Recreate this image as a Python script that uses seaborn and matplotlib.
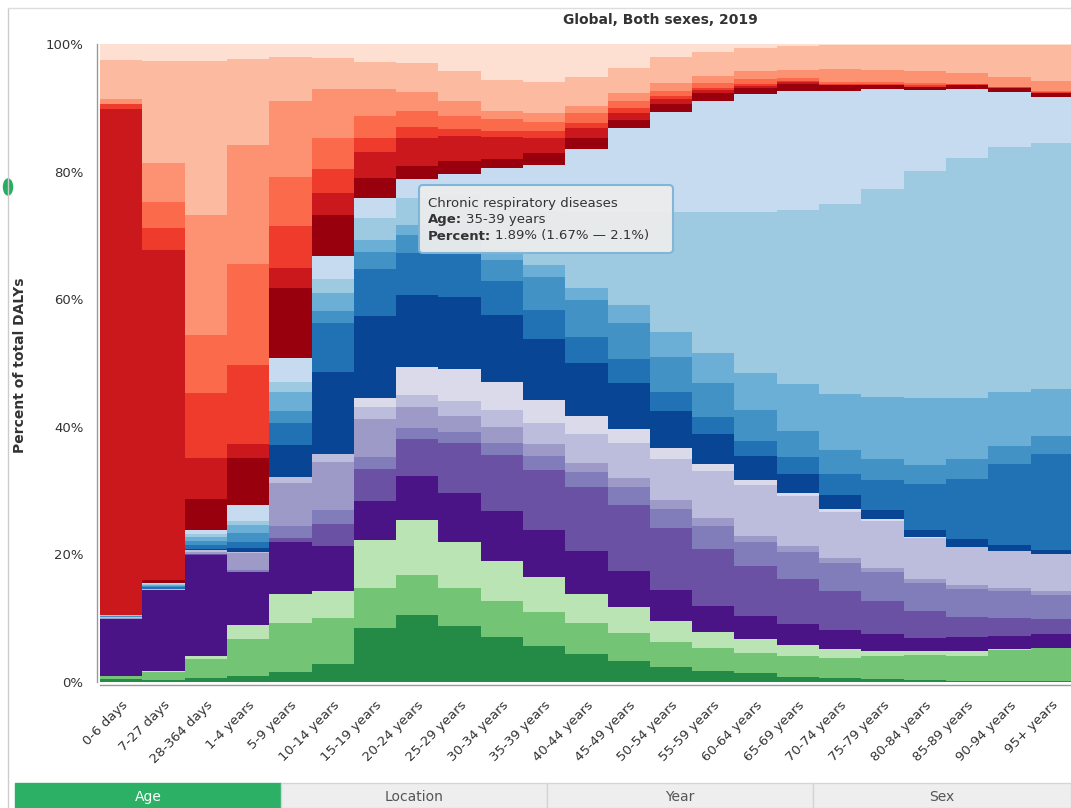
import numpy as np
import pandas as pd
import seaborn as sns
import matplotlib.pyplot as plt
from matplotlib.patches import FancyBboxPatch, Rectangle, Ellipse
from matplotlib.lines import Line2D
from matplotlib.transforms import IdentityTransform
from matplotlib.ticker import FuncFormatter, FixedLocator

sns.set_style("white")
plt.rcParams["font.family"] = ["DejaVu Sans"]

W, H = 1071, 808

ages = ["0-6 days", "7-27 days", "28-364 days", "1-4 years", "5-9 years",
        "10-14 years", "15-19 years", "20-24 years", "25-29 years", "30-34 years",
        "35-39 years", "40-44 years", "45-49 years", "50-54 years", "55-59 years",
        "60-64 years", "65-69 years", "70-74 years", "75-79 years", "80-84 years",
        "85-89 years", "90-94 years", "95+ years"]

# percent of total DALYs per age group, GBD level-2 causes
# injuries
self_harm = [0.4, 0.3, 0.6, 0.9, 1.5, 2.8, 8.5, 10.5, 8.8, 7.1, 5.6, 4.4, 3.3, 2.4, 1.7, 1.4, 0.8, 0.7, 0.5, 0.3, 0.2, 0.1, 0.1]
unintentional = [0.5, 1.3, 3.0, 5.9, 7.8, 7.3, 6.3, 6.3, 5.9, 5.6, 5.4, 4.8, 4.4, 3.9, 3.6, 3.2, 3.2, 3.0, 3.5, 3.9, 3.9, 4.9, 5.2]
transport = [0.0, 0.1, 0.5, 2.1, 4.5, 4.1, 7.5, 8.6, 7.2, 6.3, 5.5, 4.6, 4.0, 3.3, 2.6, 2.1, 1.8, 1.4, 0.8, 0.6, 0.8, 0.2, 0.1]
# non-communicable
other_ncd = [9.0, 12.7, 15.8, 8.3, 8.1, 7.1, 6.0, 6.9, 7.8, 7.8, 7.3, 6.7, 5.7, 4.8, 4.0, 3.6, 3.3, 3.1, 2.8, 2.1, 2.1, 2.0, 2.1]
musculoskeletal = [0.05, 0.0, 0.1, 0.1, 0.6, 3.4, 5.1, 5.8, 7.7, 8.8, 9.4, 10.1, 10.3, 9.7, 9.0, 7.9, 7.0, 6.0, 5.1, 4.2, 3.2, 2.8, 2.3]
sense_organ = [0.0, 0.0, 0.1, 0.2, 2.0, 2.3, 1.9, 1.7, 1.8, 1.8, 2.2, 2.3, 2.8, 3.0, 3.6, 3.7, 4.3, 4.4, 4.6, 4.4, 4.3, 4.3, 3.8]
skin = [0.1, 0.0, 0.2, 2.7, 6.7, 7.5, 6.0, 3.3, 2.5, 2.5, 1.9, 1.5, 1.5, 1.4, 1.2, 1.0, 0.9, 0.8, 0.6, 0.6, 0.7, 0.5, 0.7]
diabetes_kidney = [0.1, 0.1, 0.3, 0.2, 1.0, 1.2, 1.8, 1.9, 2.3, 2.7, 3.3, 4.4, 5.4, 6.5, 7.3, 8.0, 7.9, 7.3, 7.4, 6.5, 5.9, 5.7, 5.8]
substance_use = [0.0, 0.0, 0.0, 0.0, 0.0, 0.1, 1.4, 4.3, 5.0, 4.5, 3.6, 2.9, 2.3, 1.6, 1.1, 0.8, 0.5, 0.4, 0.2, 0.2, 0.1, 0.1, 0.0]
mental = [0.0, 0.0, 0.2, 0.6, 4.9, 12.8, 12.9, 11.4, 11.4, 10.4, 9.5, 8.3, 7.1, 5.9, 4.7, 3.7, 2.9, 2.2, 1.5, 1.1, 1.2, 0.9, 0.6]
neurological = [0.1, 0.3, 0.6, 1.0, 3.5, 7.7, 7.4, 6.5, 6.7, 5.4, 4.6, 4.1, 3.8, 3.0, 2.8, 2.4, 2.7, 3.3, 4.6, 7.1, 9.4, 12.7, 15.1]
digestive = [0.1, 0.2, 0.7, 1.3, 1.9, 1.9, 2.6, 2.9, 3.0, 3.2, 5.2, 5.7, 5.6, 5.5, 5.2, 4.8, 4.0, 3.7, 3.3, 3.0, 3.1, 2.8, 2.8]
chronic_resp = [0.05, 0.2, 0.6, 1.4, 3.0, 2.8, 1.9, 1.5, 1.7, 1.8, 1.89, 1.9, 2.9, 3.8, 4.7, 5.9, 7.4, 8.8, 9.8, 10.5, 9.6, 8.4, 7.3]
cardiovascular = [0.1, 0.15, 0.4, 0.6, 1.6, 2.2, 3.4, 4.2, 4.6, 6.8, 8.5, 12.0, 14.6, 18.9, 22.1, 25.1, 27.3, 29.8, 32.5, 35.6, 37.6, 38.5, 38.6]
neoplasms = [0.05, 0.15, 0.7, 2.4, 3.7, 3.6, 3.1, 3.1, 3.3, 5.8, 7.1, 9.9, 13.1, 15.7, 17.5, 18.5, 18.7, 17.8, 15.8, 12.7, 10.8, 8.6, 7.2]
# communicable, maternal, neonatal and nutritional
nutritional = [0.0, 0.4, 4.8, 7.5, 11.0, 6.4, 3.2, 2.0, 1.9, 1.4, 1.9, 1.7, 1.3, 1.2, 1.2, 1.0, 1.1, 0.8, 0.5, 0.4, 0.6, 0.6, 0.6]
maternal_neonatal = [79.4, 51.7, 6.5, 2.1, 3.1, 3.4, 4.1, 4.3, 4.0, 3.5, 2.3, 1.6, 1.1, 0.8, 0.5, 0.3, 0.2, 0.1, 0.1, 0.1, 0.1, 0.0, 0.0]
other_infectious = [0.8, 3.5, 10.1, 12.5, 6.6, 3.8, 2.2, 1.8, 1.0, 1.0, 1.1, 0.7, 0.7, 0.4, 0.3, 0.3, 0.2, 0.2, 0.2, 0.3, 0.1, 0.1, 0.1]
ntd_malaria = [0.0, 4.0, 9.2, 15.8, 7.6, 4.9, 3.4, 2.5, 2.1, 1.8, 1.5, 1.6, 1.1, 0.9, 0.8, 0.8, 0.4, 0.2, 0.2, 0.3, 0.1, 0.1, 0.2]
enteric = [0.8, 6.1, 18.7, 18.7, 11.9, 7.7, 4.2, 2.9, 2.3, 1.3, 1.4, 1.1, 1.3, 1.2, 1.1, 1.2, 1.4, 2.1, 1.9, 1.9, 1.7, 1.6, 1.6]
resp_infections = [6.1, 16.1, 24.2, 13.5, 6.9, 4.8, 4.3, 4.7, 4.7, 4.9, 4.8, 4.6, 4.0, 4.1, 3.7, 3.6, 3.7, 3.8, 4.0, 4.1, 4.4, 5.0, 5.7]
hiv_sti = [2.5, 2.6, 2.6, 2.3, 2.1, 2.2, 2.8, 2.9, 4.3, 5.6, 6.0, 5.1, 3.7, 2.0, 1.3, 0.7, 0.3, 0.1, 0.1, 0.1, 0.1, 0.1, 0.1]

# top of the stack first
layers = [
    ("HIV/AIDS and sexually transmitted infections", hiv_sti),
    ("Respiratory infections and tuberculosis", resp_infections),
    ("Enteric infections", enteric),
    ("Neglected tropical diseases and malaria", ntd_malaria),
    ("Other infectious diseases", other_infectious),
    ("Maternal and neonatal disorders", maternal_neonatal),
    ("Nutritional deficiencies", nutritional),
    ("Neoplasms", neoplasms),
    ("Cardiovascular diseases", cardiovascular),
    ("Chronic respiratory diseases", chronic_resp),
    ("Digestive diseases", digestive),
    ("Neurological disorders", neurological),
    ("Mental disorders", mental),
    ("Substance use disorders", substance_use),
    ("Diabetes and kidney diseases", diabetes_kidney),
    ("Skin and subcutaneous diseases", skin),
    ("Sense organ diseases", sense_organ),
    ("Musculoskeletal disorders", musculoskeletal),
    ("Other non-communicable diseases", other_ncd),
    ("Transport injuries", transport),
    ("Unintentional injuries", unintentional),
    ("Self-harm and interpersonal violence", self_harm),
]
colors = ["#fee0d2", "#fcbba1", "#fc9272", "#fb6a4a", "#ef3b2c", "#cb181d", "#99000d",
          "#c6dbef", "#9ecae1", "#6baed6", "#4292c6", "#2171b5", "#084594",
          "#dadaeb", "#bcbddc", "#9e9ac8", "#807dba", "#6a51a3", "#4a1486",
          "#bae4b3", "#74c476", "#238b45"]

order = [name for name, _ in layers]
palette = dict(zip(order, colors))

rows = []
for name, vals in layers:
    for i, v in enumerate(vals):
        rows.append((i, name, v))
df = pd.DataFrame(rows, columns=["age", "cause", "dalys"])

fig = plt.figure(figsize=(W / 100, H / 100), dpi=100)
ax = fig.add_axes([100 / W, 126 / H, 971 / W, 638 / H])

sns.histplot(data=df, x="age", weights="dalys", hue="cause", hue_order=order,
             palette=palette, multiple="fill", discrete=True, shrink=1,
             element="bars", alpha=1, linewidth=0, edgecolor="none",
             legend=False, ax=ax)

# spines first: moving a spine resets the ticks
for s in ["top", "right"]:
    ax.spines[s].set_visible(False)
for s in ["left", "bottom"]:
    ax.spines[s].set_color("#999999")
    ax.spines[s].set_linewidth(1)
    ax.spines[s].set_position(("outward", 2))

ax.set_xlim(-0.5, -0.5 + 971 / 42.3)
ax.set_ylim(0, 1)
ax.set_xlabel("")
ax.set_ylabel("")
ax.set_yticks([0, 0.2, 0.4, 0.6, 0.8, 1.0])
ax.yaxis.set_major_formatter(FuncFormatter(lambda v, p: f"{v * 100:.0f}%"))
ax.set_xticks(range(len(ages)))
ax.xaxis.set_minor_locator(FixedLocator([-0.5]))
ax.tick_params(axis="both", which="both", direction="out", length=7, width=1,
               color="#999999", labelsize=9.5, labelcolor="#333333")
ax.tick_params(axis="y", pad=3)
ax.tick_params(axis="x", pad=3)
ax.set_xticklabels(ages, rotation=45, ha="right", va="top", rotation_mode="anchor")

fig.text(660 / W, 1 - 20 / H, "Global, Both sexes, 2019", ha="center", va="center",
         fontsize=10, fontweight="bold", color="#333333")
fig.text(20 / W, 1 - 365 / H, "Percent of total DALYs", rotation=90, ha="center",
         va="center", fontsize=10, fontweight="bold", color="#333333")

# panel frame
fig.add_artist(Line2D([8 / W, 8 / W], [0, 1 - 8 / H], color="#cccccc", lw=1))
fig.add_artist(Line2D([8 / W, 1], [1 - 8 / H, 1 - 8 / H], color="#dddddd", lw=1))
fig.add_artist(Ellipse((8, H - 187), 9, 16, transform=IdentityTransform(),
                       color="#27ae60"))

# tabs
tabs = [("Age", 15, 281), ("Location", 281, 547), ("Year", 547, 813), ("Sex", 813, 1071)]
for label, x0, x1 in tabs:
    active = label == "Age"
    fig.add_artist(Rectangle((x0, 0), x1 - x0, H - 783, transform=IdentityTransform(),
                             facecolor="#2bb065" if active else "#eeeeee",
                             edgecolor="#2bb065" if active else "#d5d5d5", lw=1))
    fig.text((x0 + x1) / 2 / W, 1 - 797 / H, label, ha="center", va="center",
             fontsize=10, color="white" if active else "#555555")

# tooltip
fig.add_artist(FancyBboxPatch((419, H - 253), 254, 68,
                              boxstyle="round,pad=0,rounding_size=4",
                              transform=IdentityTransform(), facecolor="#ececec",
                              edgecolor="#7db4d8", lw=1.5, alpha=0.95))
renderer = fig.canvas.get_renderer()
tt = dict(transform=IdentityTransform(), fontsize=9.5, color="#333333", va="center")
fig.text(428, H - 203, "Chronic respiratory diseases", **tt)
for y, bold, rest in [(219, "Age:", "35-39 years"),
                      (236, "Percent:", "1.89% (1.67% \u2014 2.1%)")]:
    t = fig.text(428, H - y, bold, fontweight="bold", **tt)
    bb = t.get_window_extent(renderer=renderer)
    fig.text(bb.x1 + 4, H - y, rest, **tt)

fig.savefig("out.png", dpi=100)
